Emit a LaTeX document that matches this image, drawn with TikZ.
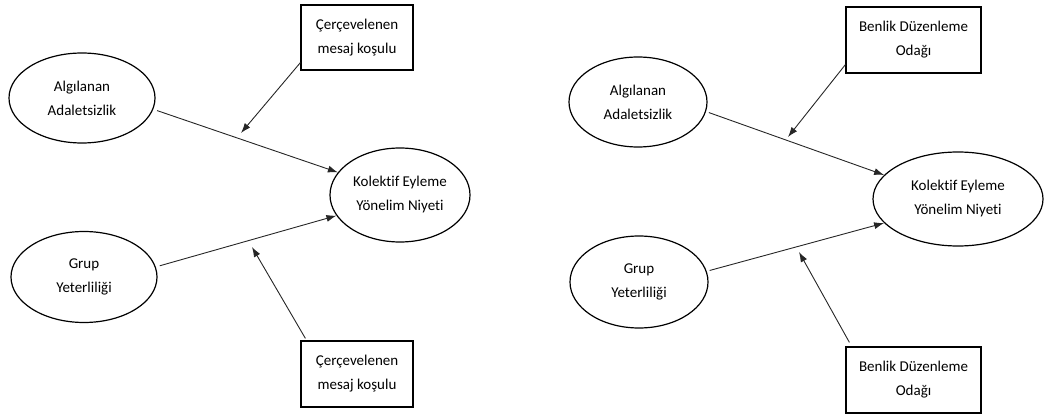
\documentclass[tikz,border=0pt]{standalone}
\usepackage{fontspec}
\setmainfont{Carlito}[Ligatures={NoCommon}]
\usepackage{tikz}
\usetikzlibrary{shapes.geometric,arrows.meta}

\tikzset{
	oval/.style={draw, ellipse, line width=1.2pt, inner sep=0pt, align=center, font=\fontsize{15}{24}\selectfont},
	kutu/.style={draw, rectangle, line width=1.2pt, inner sep=0pt, align=center, font=\fontsize{15}{24}\selectfont},
	ok/.style={-{Latex[length=10pt,width=7pt]}, line width=0.9pt, draw=black!85}
}

\begin{document}
\begin{tikzpicture}[x=1pt,y=-1pt]
			\useasboundingbox (0,0) rectangle (1054,414);
			% sol model
			\node[oval, minimum width=146pt, minimum height=90pt] (alg1) at (82,98) {Algılanan\\Adaletsizlik};
			\node[oval, minimum width=146pt, minimum height=91pt] (grup1) at (84,277) {Grup\\Yeterliliği};
			\node[oval, minimum width=140pt, minimum height=94pt] (kol1) at (400,195) {Kolektif Eyleme\\Yönelim Niyeti};
			\node[kutu, minimum width=112pt, minimum height=65pt] (ust1) at (357,37.5) {Çerçevelenen\\mesaj koşulu};
			\node[kutu, minimum width=112pt, minimum height=66pt] (alt1) at (357,374) {Çerçevelenen\\mesaj koşulu};
			\coordinate (m1) at (241,133);
			\coordinate (m2) at (252,247);
			\draw[ok, shorten <=4pt] (alg1.-9) -- (kol1.160);
			\draw[ok, shorten <=4pt] (grup1.8) -- (kol1.198);
			\draw[ok] (ust1.south west) ++(0,-8) -- (m1);
			\draw[ok] (alt1.north west) ++(5,-2) -- (m2);
			% sag model
			\node[oval, minimum width=138pt, minimum height=90pt] (alg2) at (638,102) {Algılanan\\Adaletsizlik};
			\node[oval, minimum width=138pt, minimum height=92pt] (grup2) at (639,282) {Grup\\Yeterliliği};
			\node[oval, minimum width=170pt, minimum height=94pt] (kol2) at (958,199) {Kolektif Eyleme\\Yönelim Niyeti};
			\node[kutu, minimum width=135pt, minimum height=66pt] (ust2) at (913.5,40) {Benlik Düzenleme\\Odağı};
			\node[kutu, minimum width=135pt, minimum height=66pt] (alt2) at (913.5,380) {Benlik Düzenleme\\Odağı};
			\coordinate (m3) at (788,137);
			\coordinate (m4) at (799,252);
			\draw[ok, shorten <=3pt] (alg2.-8) -- (kol2.162);
			\draw[ok, shorten <=3pt] (grup2.9) -- (kol2.198);
			\draw[ok] (ust2.south west) ++(0,-9) -- (m3);
			\draw[ok] (alt2.north west) ++(4,-4) -- (m4);
		\end{tikzpicture}
\end{document}
